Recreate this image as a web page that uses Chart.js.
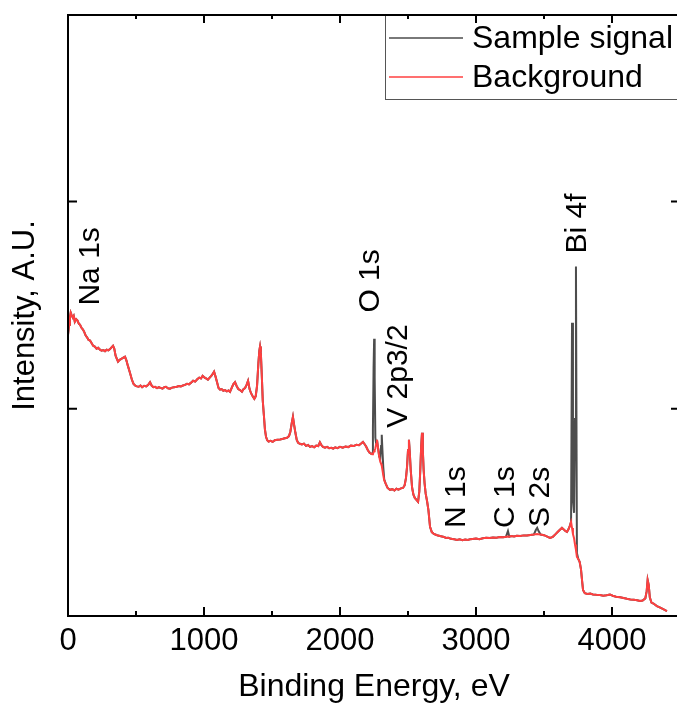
<!DOCTYPE html>
<html><head><meta charset="utf-8">
<script src="https://cdn.jsdelivr.net/npm/chart.js@4/dist/chart.umd.min.js"></script>
<style>html,body{margin:0;padding:0;overflow:hidden;background:#fff}#wrap{width:690px;height:720px}</style>
</head><body><div id="wrap"><canvas id="c" width="690" height="720"></canvas></div>
<script>
// Binding energy (eV)
const energies = [
  0, 8, 14, 20, 27, 35, 42, 50, 60, 70,
  80, 88, 98, 110, 120, 130, 140, 150, 162, 172,
  185, 197, 210, 222, 235, 247, 260, 272, 285, 297,
  309, 320, 331, 340, 350, 360, 368, 380, 395, 407,
  419, 430, 440, 455, 470, 482, 495, 507, 520, 533,
  545, 560, 575, 590, 603, 615, 628, 640, 655, 668,
  680, 695, 708, 720, 735, 750, 765, 780, 800, 815,
  830, 845, 860, 875, 890, 905, 920, 935, 950, 965,
  978, 990, 1005, 1018, 1029, 1042, 1055, 1066, 1074, 1085,
  1095, 1107, 1118, 1130, 1142, 1155, 1168, 1180, 1191, 1203,
  1215, 1228, 1240, 1252, 1265, 1279, 1290, 1302, 1313, 1324,
  1335, 1346, 1358, 1370, 1380, 1390, 1400, 1407, 1412, 1418,
  1425, 1432, 1440, 1448, 1456, 1465, 1475, 1490, 1505, 1520,
  1540, 1560, 1580, 1595, 1610, 1625, 1635, 1645, 1654, 1662,
  1672, 1682, 1692, 1705, 1720, 1735, 1750, 1765, 1780, 1795,
  1810, 1825, 1840, 1852, 1862, 1875, 1890, 1905, 1920, 1935,
  1950, 1965, 1980, 2000, 2020, 2040, 2060, 2080, 2100, 2120,
  2140, 2155, 2169, 2180, 2192, 2205, 2218, 2228, 2236, 2242,
  2247, 2251, 2255, 2260, 2266, 2272, 2280, 2288, 2296, 2302,
  2307, 2312, 2318, 2325, 2335, 2350, 2368, 2385, 2400, 2415,
  2430, 2448, 2463, 2475, 2485, 2493, 2500, 2507, 2513, 2520,
  2530, 2540, 2550, 2562, 2574, 2583, 2590, 2597, 2603, 2609,
  2615, 2622, 2630, 2640, 2650, 2662, 2675, 2690, 2705, 2720,
  2735, 2750, 2765, 2780, 2795, 2810, 2825, 2840, 2860, 2880,
  2900, 2920, 2940, 2956, 2975, 3000, 3025, 3050, 3075, 3100,
  3125, 3150, 3175, 3200, 3220, 3235, 3245, 3260, 3280, 3300,
  3325, 3350, 3375, 3400, 3425, 3440, 3450, 3460, 3475, 3500,
  3520, 3544, 3565, 3585, 3600, 3615, 3632, 3645, 3657, 3669,
  3680, 3690, 3699, 3706, 3713, 3721, 3728, 3735, 3742, 3752,
  3762, 3772, 3780, 3787, 3800, 3820, 3840, 3860, 3885, 3912,
  3935, 3960, 3985, 4005, 4030, 4060, 4085, 4110, 4135, 4160,
  4185, 4206, 4225, 4245, 4255, 4262, 4270, 4278, 4290, 4305,
  4330, 4355, 4380, 4404
];

// Background intensity (A.U.)
const backgroundIntensity = [
  1.357, 1.405, 1.440, 1.464, 1.452, 1.440, 1.448, 1.420, 1.432, 1.425,
  1.410, 1.406, 1.392, 1.382, 1.370, 1.353, 1.345, 1.333, 1.329, 1.318,
  1.304, 1.300, 1.290, 1.294, 1.285, 1.280, 1.283, 1.278, 1.285, 1.282,
  1.288, 1.296, 1.304, 1.290, 1.256, 1.240, 1.227, 1.236, 1.242, 1.247,
  1.251, 1.232, 1.208, 1.175, 1.140, 1.120, 1.111, 1.108, 1.106, 1.112,
  1.104, 1.111, 1.108, 1.116, 1.128, 1.112, 1.104, 1.106, 1.100, 1.104,
  1.101, 1.097, 1.104, 1.106, 1.099, 1.097, 1.102, 1.104, 1.106, 1.110,
  1.108, 1.112, 1.115, 1.120, 1.118, 1.126, 1.135, 1.131, 1.142, 1.150,
  1.146, 1.159, 1.150, 1.145, 1.140, 1.150, 1.160, 1.170, 1.179, 1.155,
  1.130, 1.100, 1.092, 1.095, 1.087, 1.090, 1.084, 1.088, 1.082, 1.100,
  1.118, 1.128, 1.110, 1.095, 1.090, 1.082, 1.094, 1.100, 1.115, 1.135,
  1.095, 1.075, 1.060, 1.048, 1.060, 1.110, 1.220, 1.280, 1.300, 1.270,
  1.160, 1.040, 0.971, 0.900, 0.865, 0.848, 0.842, 0.845, 0.840, 0.848,
  0.850, 0.852, 0.855, 0.858, 0.860, 0.868, 0.889, 0.930, 0.961, 0.925,
  0.884, 0.850, 0.836, 0.831, 0.828, 0.832, 0.821, 0.825, 0.816, 0.820,
  0.814, 0.822, 0.820, 0.838, 0.826, 0.816, 0.812, 0.816, 0.810, 0.812,
  0.808, 0.814, 0.810, 0.816, 0.812, 0.818, 0.815, 0.822, 0.820, 0.826,
  0.824, 0.832, 0.840, 0.830, 0.818, 0.800, 0.788, 0.783, 0.780, 0.782,
  0.790, 0.795, 0.800, 0.808, 0.830, 0.850, 0.810, 0.770, 0.745, 0.735,
  0.725, 0.705, 0.680, 0.655, 0.640, 0.618, 0.609, 0.612, 0.606, 0.614,
  0.610, 0.616, 0.618, 0.630, 0.665, 0.720, 0.800, 0.850, 0.790, 0.705,
  0.620, 0.585, 0.570, 0.560, 0.551, 0.600, 0.700, 0.820, 0.884, 0.800,
  0.705, 0.640, 0.590, 0.555, 0.512, 0.430, 0.405, 0.396, 0.392, 0.388,
  0.386, 0.384, 0.381, 0.377, 0.378, 0.374, 0.372, 0.370, 0.367, 0.370,
  0.366, 0.369, 0.367, 0.370, 0.372, 0.374, 0.371, 0.375, 0.377, 0.376,
  0.379, 0.378, 0.381, 0.380, 0.382, 0.384, 0.383, 0.386, 0.384, 0.387,
  0.386, 0.389, 0.388, 0.391, 0.393, 0.395, 0.396, 0.394, 0.393, 0.390,
  0.384, 0.377, 0.382, 0.395, 0.405, 0.415, 0.425, 0.418, 0.410, 0.406,
  0.418, 0.435, 0.454, 0.425, 0.395, 0.375, 0.345, 0.319, 0.285, 0.275,
  0.262, 0.225, 0.170, 0.126, 0.110, 0.106, 0.108, 0.104, 0.102, 0.101,
  0.098, 0.100, 0.104, 0.098, 0.093, 0.090, 0.087, 0.083, 0.080, 0.078,
  0.076, 0.072, 0.075, 0.085, 0.120, 0.174, 0.150, 0.090, 0.065, 0.060,
  0.048, 0.040, 0.032, 0.024
];

// Sample signal intensity (A.U.)
const sampleIntensity = [
  1.357, 1.405, 1.440, 1.464, 1.452, 1.440, 1.448, 1.420, 1.432, 1.425,
  1.410, 1.406, 1.392, 1.382, 1.370, 1.353, 1.345, 1.333, 1.329, 1.318,
  1.304, 1.300, 1.290, 1.294, 1.285, 1.280, 1.283, 1.278, 1.285, 1.282,
  1.288, 1.296, 1.304, 1.290, 1.256, 1.240, 1.227, 1.236, 1.242, 1.247,
  1.251, 1.232, 1.208, 1.175, 1.140, 1.120, 1.111, 1.108, 1.106, 1.112,
  1.104, 1.111, 1.108, 1.116, 1.128, 1.112, 1.104, 1.106, 1.100, 1.104,
  1.101, 1.097, 1.104, 1.106, 1.099, 1.097, 1.102, 1.104, 1.106, 1.110,
  1.108, 1.112, 1.115, 1.120, 1.118, 1.126, 1.135, 1.131, 1.142, 1.150,
  1.146, 1.159, 1.150, 1.145, 1.140, 1.150, 1.160, 1.170, 1.179, 1.155,
  1.130, 1.100, 1.092, 1.095, 1.087, 1.090, 1.084, 1.088, 1.082, 1.100,
  1.118, 1.128, 1.110, 1.095, 1.090, 1.082, 1.094, 1.100, 1.115, 1.135,
  1.095, 1.075, 1.060, 1.048, 1.060, 1.110, 1.220, 1.280, 1.300, 1.270,
  1.160, 1.040, 0.971, 0.900, 0.865, 0.848, 0.842, 0.845, 0.840, 0.848,
  0.850, 0.852, 0.855, 0.858, 0.860, 0.868, 0.889, 0.930, 0.961, 0.925,
  0.884, 0.850, 0.836, 0.831, 0.828, 0.832, 0.821, 0.825, 0.816, 0.820,
  0.814, 0.822, 0.820, 0.838, 0.826, 0.816, 0.812, 0.816, 0.810, 0.812,
  0.808, 0.814, 0.810, 0.816, 0.812, 0.818, 0.815, 0.822, 0.820, 0.826,
  0.824, 0.832, 0.840, 0.830, 0.818, 0.800, 0.788, 0.783, 0.785, 0.900,
  1.200, 1.338, 1.150, 0.860, 0.830, 0.850, 0.810, 0.770, 0.760, 0.820,
  0.874, 0.800, 0.720, 0.660, 0.640, 0.618, 0.609, 0.612, 0.606, 0.614,
  0.610, 0.616, 0.618, 0.630, 0.665, 0.720, 0.800, 0.850, 0.790, 0.705,
  0.620, 0.585, 0.570, 0.560, 0.551, 0.600, 0.700, 0.820, 0.884, 0.800,
  0.705, 0.640, 0.590, 0.555, 0.512, 0.430, 0.405, 0.396, 0.392, 0.388,
  0.386, 0.384, 0.381, 0.377, 0.378, 0.374, 0.372, 0.370, 0.367, 0.370,
  0.366, 0.369, 0.367, 0.370, 0.372, 0.374, 0.371, 0.375, 0.377, 0.376,
  0.379, 0.378, 0.381, 0.380, 0.382, 0.410, 0.383, 0.386, 0.384, 0.387,
  0.386, 0.389, 0.388, 0.391, 0.393, 0.415, 0.425, 0.410, 0.393, 0.390,
  0.384, 0.377, 0.382, 0.395, 0.405, 0.415, 0.425, 0.418, 0.410, 0.406,
  0.418, 0.435, 0.454, 1.415, 0.560, 0.498, 0.950, 1.686, 0.304, 0.275,
  0.262, 0.225, 0.170, 0.126, 0.110, 0.106, 0.108, 0.104, 0.102, 0.101,
  0.098, 0.100, 0.104, 0.098, 0.093, 0.090, 0.087, 0.083, 0.080, 0.078,
  0.076, 0.072, 0.075, 0.085, 0.120, 0.174, 0.150, 0.090, 0.065, 0.060,
  0.048, 0.040, 0.032, 0.024
];

// Axis tick positions
const xMajorTicks = [0, 1000, 2000, 3000, 4000];
const xMinorTicks = [500, 1500, 2500, 3500];
const yMajorTicks = [1, 2];

// Peak labels and their anchor points (energy, intensity)
const peakLabels = ['Na 1s', 'O 1s', 'V 2p3/2', 'N 1s', 'C 1s', 'S 2s', 'Bi 4f'];
const peakLabelEnergy = [228, 2287, 2493, 2919, 3279, 3537, 3809];
const peakLabelIntensity = [1.498, 1.464, 0.908, 0.425, 0.425, 0.430, 1.749];

const seriesLabels = ['Sample signal', 'Background'];

const FONT = "'Liberation Sans', Arial, sans-serif";
Chart.defaults.font.family = FONT;
Chart.defaults.color = '#000';

const toPoints = (vals) => vals.map((v, i) => ({x: energies[i], y: v}));

const decorPlugin = {
  id: 'decor',
  afterDatasetsDraw(chart) {
    const {ctx, chartArea: a, scales: {x, y}} = chart;
    ctx.save();
    // peak labels
    ctx.fillStyle = '#000';
    ctx.font = '30px ' + FONT;
    ctx.textAlign = 'left';
    ctx.textBaseline = 'alphabetic';
    peakLabels.forEach((t, i) => {
      const px = x.getPixelForValue(peakLabelEnergy[i]);
      const py = y.getPixelForValue(peakLabelIntensity[i]);
      ctx.save();
      ctx.translate(px, py);
      ctx.rotate(-Math.PI / 2);
      ctx.fillText(t, 0, 0);
      ctx.restore();
    });
    // legend
    const ds = chart.data.datasets;
    const lx = 385, ly = 15;
    ctx.fillStyle = '#fff';
    ctx.fillRect(lx, ly, 400, 84);
    ctx.strokeStyle = '#555';
    ctx.lineWidth = 1;
    ctx.strokeRect(lx + 0.5, ly + 0.5, 400, 84);
    ctx.font = '32px ' + FONT;
    ctx.textBaseline = 'middle';
    ds.forEach((d, i) => {
      const cy = 38 + i * 39;
      ctx.strokeStyle = d.borderColor;
      ctx.lineWidth = 1.5;
      ctx.beginPath();
      ctx.moveTo(389, cy);
      ctx.lineTo(463, cy);
      ctx.stroke();
      ctx.fillStyle = '#000';
      ctx.fillText(d.label, 472, cy + 1);
    });
    // frame
    ctx.strokeStyle = '#000';
    ctx.lineWidth = 2;
    ctx.strokeRect(a.left, a.top, a.right - a.left, a.bottom - a.top);
    ctx.beginPath();
    xMajorTicks.forEach(v => {
      const p = x.getPixelForValue(v);
      ctx.moveTo(p, a.bottom); ctx.lineTo(p, a.bottom - 9);
      ctx.moveTo(p, a.top); ctx.lineTo(p, a.top + 8);
    });
    xMinorTicks.forEach(v => {
      const p = x.getPixelForValue(v);
      ctx.moveTo(p, a.bottom); ctx.lineTo(p, a.bottom - 5);
      ctx.moveTo(p, a.top); ctx.lineTo(p, a.top + 4);
    });
    yMajorTicks.forEach(v => {
      const p = y.getPixelForValue(v);
      ctx.moveTo(a.left, p); ctx.lineTo(a.left + 9, p);
      ctx.moveTo(a.right, p); ctx.lineTo(a.right - 9, p);
    });
    ctx.stroke();
    ctx.restore();
  }
};

new Chart(document.getElementById('c'), {
  type: 'line',
  data: {
    datasets: [
      { label: seriesLabels[0], data: toPoints(sampleIntensity), borderColor: '#4d4d4d',
        borderWidth: 2, pointRadius: 0, tension: 0, order: 1 },
      { label: seriesLabels[1], data: toPoints(backgroundIntensity), borderColor: '#ff4040',
        borderWidth: 2, pointRadius: 0, tension: 0, order: 0 }
    ]
  },
  options: {
    responsive: false,
    animation: false,
    devicePixelRatio: 1,
    layout: { padding: { top: 15, right: 10, left: 0, bottom: 0 } },
    plugins: { legend: { display: false }, tooltip: { enabled: false } },
    scales: {
      x: {
        type: 'linear', min: 0, max: 4500,
        grid: { display: false, drawTicks: false },
        border: { display: false },
        afterBuildTicks: (s) => { s.ticks = xMajorTicks.map(v => ({ value: v })); },
        ticks: { autoSkip: false, maxRotation: 0, minRotation: 0,
          padding: 7, color: '#000', font: { size: 31 },
          callback: (v) => String(v) },
        title: { display: true, text: 'Binding Energy, eV', color: '#000',
          font: { size: 32 }, padding: { top: 0, bottom: 14 } },
        afterFit: (s) => { s.height = 104; }
      },
      y: {
        type: 'linear', min: 0, max: 2.9,
        grid: { display: false, drawTicks: false },
        border: { display: false },
        ticks: { display: false },
        title: { display: true, text: 'Intensity, A.U.', color: '#000',
          font: { size: 31 }, padding: { top: 7, bottom: 0 } },
        afterFit: (s) => { s.width = 68; }
      }
    }
  },
  plugins: [decorPlugin]
});
</script></body></html>
